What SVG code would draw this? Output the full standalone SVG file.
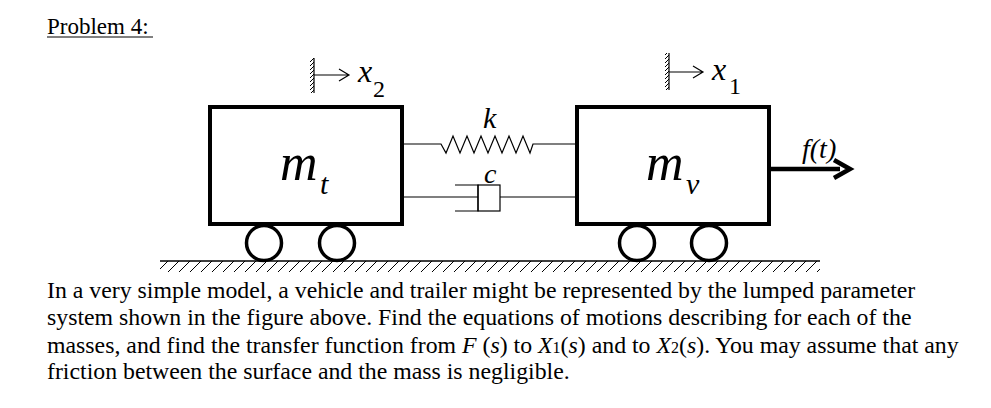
<svg xmlns="http://www.w3.org/2000/svg" width="991" height="408" viewBox="0 0 991 408">
<defs>
<style>
.t{font-family:"Liberation Serif","Times New Roman",serif;fill:#000}
.i{font-style:italic}
.thin{stroke:#000;stroke-width:1.2;fill:none}
.thick{stroke:#000;stroke-width:4;fill:none}
.wheel{stroke:#000;stroke-width:3.5;fill:#fff}
</style>
<pattern id="hatch" width="11" height="11" patternUnits="userSpaceOnUse">
<line x1="11" y1="0" x2="0" y2="11" stroke="#000" stroke-width="1"/>
</pattern>
<pattern id="whatch" width="4" height="4" patternUnits="userSpaceOnUse">
<line x1="4" y1="0" x2="0" y2="4" stroke="#000" stroke-width="1"/>
</pattern>
</defs>
<rect width="991" height="408" fill="#fff"/>
<text class="t" x="47" y="34" font-size="23">Problem 4:</text>
<line x1="47" y1="37" x2="153" y2="37" stroke="#000" stroke-width="1"/>

<g id="ground">
<rect x="160" y="261" width="660" height="11" fill="url(#hatch)"/>
<line x1="160" y1="261" x2="820" y2="261" stroke="#000" stroke-width="1.5"/>
</g>

<g id="trailer">
<rect x="210" y="107" width="192" height="117" class="thick"/>
<circle cx="264" cy="243" r="17.5" class="wheel"/>
<circle cx="337" cy="243" r="17.5" class="wheel"/>
<text class="t i" x="280" y="180" font-size="52">m</text>
<text class="t i" x="320" y="194" font-size="30">t</text>
</g>

<g id="vehicle">
<rect x="577" y="107" width="192" height="117" class="thick"/>
<circle cx="637" cy="243" r="17.5" class="wheel"/>
<circle cx="709" cy="243" r="17.5" class="wheel"/>
<text class="t i" x="646" y="180" font-size="52">m</text>
<text class="t i" x="686" y="194" font-size="30">v</text>
</g>

<g id="x2">
<rect x="310" y="58" width="4" height="35" fill="url(#whatch)"/>
<line x1="314" y1="58" x2="314" y2="93" class="thin"/>
<path d="M314 75 H349 M339 69 L349 75 L339 81" class="thin"/>
<text class="t i" x="358" y="82" font-size="32">x</text>
<text class="t" x="373" y="97" font-size="24">2</text>
</g>

<g id="x1">
<rect x="665" y="53" width="4" height="37" fill="url(#whatch)"/>
<line x1="669" y1="53" x2="669" y2="90" class="thin"/>
<path d="M669 72 H703 M693 66 L703 72 L693 78" class="thin"/>
<text class="t i" x="712" y="80" font-size="32">x</text>
<text class="t" x="729" y="94" font-size="24">1</text>
</g>

<g id="connectors">
<path d="M402 144 H441 L446 153 L453 136 L460 153 L467 136 L474 153 L481 136 L488 153 L495 136 L502 153 L509 136 L516 153 L523 136 L530 153 L533 144 H577" class="thin"/>
<path d="M402 197 H478 M455 185 H478 V211 H455 M500 197 H577" class="thin"/>
<rect x="478" y="185" width="22" height="26" class="thin"/>
<path d="M769 169 H840" stroke="#000" stroke-width="4.5" fill="none"/>
<path d="M834 160 L850 169 L834 178" stroke="#000" stroke-width="4.5" fill="none"/>
</g>
<text class="t i" x="483" y="128" font-size="30">k</text>
<text class="t i" x="484" y="183" font-size="28">c</text>
<text class="t i" x="802" y="158" font-size="28">f(t)</text>

<g class="t" font-size="23.8">
<text x="47" y="298">In a very simple model, a vehicle and trailer might be represented by the lumped parameter</text>
<text x="47" y="325">system shown in the figure above. Find the equations of motions describing for each of the</text>
<text x="47" y="353">masses, and find the transfer function from <tspan class="i">F</tspan> (<tspan class="i">s</tspan>) to <tspan class="i">X</tspan><tspan font-size="16">1</tspan>(<tspan class="i">s</tspan>) and to <tspan class="i">X</tspan><tspan font-size="16">2</tspan>(<tspan class="i">s</tspan>). You may assume that any</text>
<text x="47" y="379">friction between the surface and the mass is negligible.</text>
</g>
</svg>
